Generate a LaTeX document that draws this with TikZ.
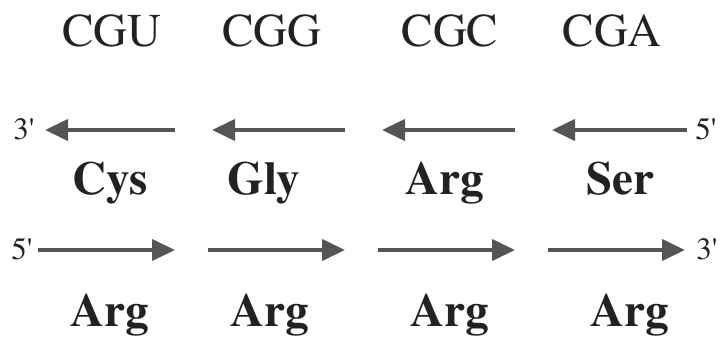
\documentclass[tikz,border=0pt]{standalone}
\usepackage{fontspec}
\setmainfont{texgyretermes}[Extension=.otf, UprightFont=*-regular, BoldFont=*-bold]
\usetikzlibrary{arrows.meta}
\definecolor{ink}{HTML}{222222}
\definecolor{strand}{HTML}{555555}
\tikzset{
  codon/.style={anchor=base, inner sep=0pt, text=ink, font=\fontsize{47}{52}\selectfont},
  amino/.style={anchor=base, inner sep=0pt, text=ink, font=\fontsize{47}{52}\selectfont\bfseries},
  endlabel/.style={anchor=base, inner sep=0pt, text=ink, font=\fontsize{31}{36}\selectfont},
  strandarrow/.style={draw=strand, line width=4pt,
    -{Triangle[length=23pt,width=21pt,fill=strand]}},
}
\begin{document}
\begin{tikzpicture}[x=1pt,y=1pt]
  \useasboundingbox[fill=white] (0,0) rectangle (720,340);

  % codons
  \node[codon] (c1) at (112,293) {CGU};
  \node[codon] (c2) at (272,293) {CGG};
  \node[codon] (c3) at (450,293) {CGC};
  \node[codon] (c4) at (612,293) {CGA};

  % upper strand, running 5' -> 3' right to left
  \node[endlabel] (u3) at (24,200) {3\textquotesingle};
  \node[endlabel] (u5) at (706,200) {5\textquotesingle};
  \coordinate (ua1) at (175,210); \coordinate (ub1) at (45,210);
  \coordinate (ua2) at (345,210); \coordinate (ub2) at (212,210);
  \coordinate (ua3) at (515,210); \coordinate (ub3) at (382,210);
  \coordinate (ua4) at (687,210); \coordinate (ub4) at (552,210);
  \draw[strandarrow] (ua1) -- (ub1);
  \draw[strandarrow] (ua2) -- (ub2);
  \draw[strandarrow] (ua3) -- (ub3);
  \draw[strandarrow] (ua4) -- (ub4);

  % amino acids read on the upper strand
  \node[amino] (a1) at (110,145) {Cys};
  \node[amino] (a2) at (264,145) {Gly};
  \node[amino] (a3) at (445,145) {Arg};
  \node[amino] (a4) at (620,145) {Ser};

  % lower strand, running 5' -> 3' left to right
  \node[endlabel] (l5) at (22,80) {5\textquotesingle};
  \node[endlabel] (l3) at (707,80) {3\textquotesingle};
  \coordinate (la1) at (38,90);  \coordinate (lb1) at (175,90);
  \coordinate (la2) at (208,90); \coordinate (lb2) at (345,90);
  \coordinate (la3) at (378,90); \coordinate (lb3) at (515,90);
  \coordinate (la4) at (548,90); \coordinate (lb4) at (685,90);
  \draw[strandarrow] (la1) -- (lb1);
  \draw[strandarrow] (la2) -- (lb2);
  \draw[strandarrow] (la3) -- (lb3);
  \draw[strandarrow] (la4) -- (lb4);

  % amino acids read on the lower strand
  \node[amino] (b1) at (110,13) {Arg};
  \node[amino] (b2) at (270,13) {Arg};
  \node[amino] (b3) at (450,13) {Arg};
  \node[amino] (b4) at (630,13) {Arg};
\end{tikzpicture}
\end{document}
